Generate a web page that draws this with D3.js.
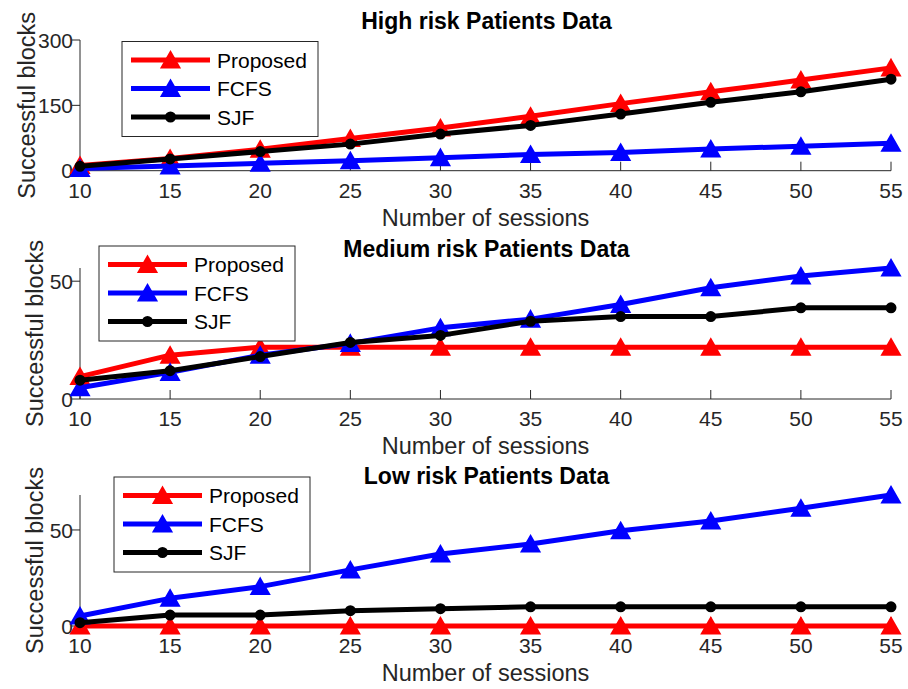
<!DOCTYPE html>
<html>
<head>
<meta charset="utf-8">
<script src="https://cdn.jsdelivr.net/npm/d3@7"></script>
<style>
  html, body { margin: 0; padding: 0; background: #fff; }
  svg { display: block; font-family: "Liberation Sans", Arial, Helvetica, sans-serif; }
</style>
</head>
<body>
<svg id="chart" width="908" height="689"></svg>
<script>
// Number of sessions on the x axis
const sessions = [10, 15, 20, 25, 30, 35, 40, 45, 50, 55];

// Successful blocks per scheduler, high risk patients
const highProposed = [12, 28, 49, 74, 98, 125, 154, 181, 208, 236];
const highFCFS     = [5, 11, 17, 23, 30, 37, 42, 50, 56, 63];
const highSJF      = [10, 27, 44, 61, 84, 104, 130, 157, 181, 210];

// Medium risk patients
const medProposed = [9.5, 18.6, 22, 22, 22, 22, 22, 22, 22, 22];
const medFCFS     = [4.8, 11.3, 18.6, 23.6, 30.2, 33.9, 40.1, 47.2, 52.2, 55.6];
const medSJF      = [8, 12, 18, 24, 27, 33, 35, 35, 38.7, 38.7];

// Low risk patients
const lowProposed = [0, 0, 0, 0, 0, 0, 0, 0, 0, 0];
const lowFCFS     = [5.2, 14.4, 20.5, 29.2, 37.5, 42.7, 49.6, 54.7, 61.3, 68.2];
const lowSJF      = [1.7, 5.7, 5.7, 8, 9, 10, 10, 10, 10, 10];

const seriesNames = ["Proposed", "FCFS", "SJF"];
const panelTitles = ["High risk Patients Data", "Medium risk Patients Data", "Low risk Patients Data"];
const yTickValues = [[0, 150, 300], [0, 50], [0, 50]];
const yLimits = [300, d3.max(medFCFS), d3.max(lowFCFS)];

const colors = { Proposed: "#ff0000", FCFS: "#0000ff", SJF: "#000000" };
const markers = { Proposed: "triangle", FCFS: "triangle", SJF: "circle" };
const axisColor = "#262626";

const panels = [
  { series: [highProposed, highFCFS, highSJF], top: 40,  bottom: 170.7, legend: { x: 122, y: 41.5 }, ylabX: 35 },
  { series: [medProposed,  medFCFS,  medSJF],  top: 268, bottom: 399,   legend: { x: 99,  y: 246 },  ylabX: 43 },
  { series: [lowProposed,  lowFCFS,  lowSJF],  top: 495, bottom: 626,   legend: { x: 114, y: 477 },  ylabX: 43 }
];

const X0 = 80, X1 = 891;
const svg = d3.select("#chart");

const x = d3.scaleLinear().domain([10, 55]).range([X0, X1]);

function drawMarker(g, type, cx, cy, color) {
  if (type === "triangle") {
    const w = 16, h = 14;
    g.append("path")
      .attr("d", `M${cx},${cy - h / 2}L${cx + w / 2},${cy + h / 2}L${cx - w / 2},${cy + h / 2}Z`)
      .attr("fill", color).attr("stroke", color).attr("stroke-width", 3)
      .attr("stroke-linejoin", "miter");
  } else {
    g.append("circle").attr("cx", cx).attr("cy", cy).attr("r", 4)
      .attr("fill", color).attr("stroke", color).attr("stroke-width", 3);
  }
}

panels.forEach((p, i) => {
  const y = d3.scaleLinear().domain([0, yLimits[i]]).range([p.bottom, p.top]);
  const g = svg.append("g");

  // x axis: baseline with inward ticks
  g.append("line").attr("x1", X0).attr("x2", X1).attr("y1", p.bottom).attr("y2", p.bottom)
    .attr("stroke", axisColor).attr("stroke-width", 1);
  sessions.forEach(s => {
    g.append("line").attr("x1", x(s)).attr("x2", x(s)).attr("y1", p.bottom).attr("y2", p.bottom - 9)
      .attr("stroke", axisColor).attr("stroke-width", 1);
    g.append("text").attr("x", x(s)).attr("y", p.bottom + 27)
      .attr("text-anchor", "middle").attr("font-size", 21).attr("fill", axisColor).text(s);
  });

  // y axis with outward ticks
  g.append("line").attr("x1", X0).attr("x2", X0).attr("y1", p.top).attr("y2", p.bottom)
    .attr("stroke", axisColor).attr("stroke-width", 1);
  yTickValues[i].forEach(v => {
    g.append("line").attr("x1", X0 - 8).attr("x2", X0).attr("y1", y(v)).attr("y2", y(v))
      .attr("stroke", axisColor).attr("stroke-width", 1);
    g.append("text").attr("x", X0 - 7).attr("y", y(v)).attr("dy", "0.36em")
      .attr("text-anchor", "end").attr("font-size", 21).attr("fill", axisColor).text(v);
  });

  // axis labels and title
  g.append("text").attr("x", (X0 + X1) / 2).attr("y", p.bottom + 55)
    .attr("text-anchor", "middle").attr("font-size", 23.5).attr("fill", axisColor)
    .text("Number of sessions");
  g.append("text")
    .attr("transform", `translate(${p.ylabX},${(p.top + p.bottom) / 2}) rotate(-90)`)
    .attr("text-anchor", "middle").attr("font-size", 23.5).attr("fill", axisColor)
    .text("Successful blocks");
  g.append("text").attr("x", (X0 + X1) / 2 + 1).attr("y", p.top - 11)
    .attr("text-anchor", "middle").attr("font-size", 23).attr("font-weight", "bold").attr("fill", "#000")
    .text(panelTitles[i]);

  // series lines and markers
  const line = d3.line().x((d, k) => x(sessions[k])).y(d => y(d));
  p.series.forEach((vals, si) => {
    const name = seriesNames[si];
    g.append("path").datum(vals).attr("d", line)
      .attr("fill", "none").attr("stroke", colors[name]).attr("stroke-width", 5)
      .attr("stroke-linejoin", "round");
    vals.forEach((v, k) => drawMarker(g, markers[name], x(sessions[k]), y(v), colors[name]));
  });

  // legend box
  const L = p.legend, lw = 196, lh = 95;
  const lg = g.append("g");
  lg.append("rect").attr("x", L.x).attr("y", L.y).attr("width", lw).attr("height", lh)
    .attr("fill", "#fff").attr("stroke", axisColor).attr("stroke-width", 1);
  seriesNames.forEach((name, k) => {
    const ly = L.y + 18.5 + k * 28.5;
    lg.append("line").attr("x1", L.x + 9).attr("x2", L.x + 88).attr("y1", ly).attr("y2", ly)
      .attr("stroke", colors[name]).attr("stroke-width", 5);
    drawMarker(lg, markers[name], L.x + 48.5, ly, colors[name]);
    lg.append("text").attr("x", L.x + 95).attr("y", ly).attr("dy", "0.36em")
      .attr("font-size", 21).attr("fill", "#000").text(name);
  });
});
</script>
</body>
</html>
